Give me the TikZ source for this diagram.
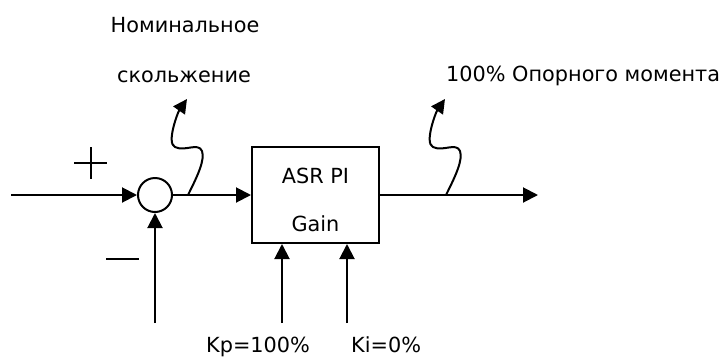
\documentclass[tikz,border=0pt]{standalone}
\usepackage{fontspec}
\setmainfont{DejaVu Sans}
\usetikzlibrary{arrows.meta}
\tikzset{
  sig/.style={line width=2pt, -{Triangle[length=15pt,width=15pt]}},
  wave/.style={line width=2pt, -{Triangle[length=14pt,width=14pt]}},
  sgn/.style={line width=1.5pt},
  lbl/.style={font=\fontsize{20.8}{25}\selectfont, inner sep=0pt, anchor=base},
}
\begin{document}
\begin{tikzpicture}[x=1pt,y=-1pt]
        \useasboundingbox (0,0) rectangle (724,360);
        % blocks
        \node [circle, draw, line width=2pt, minimum size=34pt, inner sep=0pt] (sum) at (155,195) {};
        \node [draw, line width=2pt, minimum width=127pt, minimum height=96pt] (pi) at (315.5,195) {};
        \node [lbl] (pia) at (315.5,183) {ASR PI};
        \node [lbl] (pib) at (315.5,231) {Gain};
        % free ends
        \coordinate (in) at (11,195);
        \coordinate (fb) at (155,323);
        \coordinate (out) at (538,195);
        \coordinate (kp) at (282,323);
        \coordinate (ki) at (347,323);
        \coordinate (slip) at (188,195);
        \coordinate (torque) at (446,195);
        % lines
        \draw [sig] (in) -- (sum);
        \draw [sig] (fb) -- (sum);
        \draw [sig] (sum) -- (pi);
        \draw [sig] (pi) -- (out);
        \draw [sig] (kp) -- (kp |- pi.south);
        \draw [sig] (ki) -- (ki |- pi.south);
        % squiggles
        \foreach \p in {slip,torque}
          \draw [wave, shift={(\p)}] (0,0) .. controls (10,-20) and (17,-35) .. (14,-44) .. controls (10,-53) and (-3,-43) .. (-13,-48) .. controls (-22,-52) and (-10,-83) .. (-1,-96);
        % signs
        \draw [sgn] (74,163) -- (107,163);\draw [sgn] (91,147) -- (91,179);
        \draw [sgn] (106,259) -- (139,259);
        % lecter
        \node [lbl] (nom) at (185,32) {Номинальное};
        \node [lbl] (skol) at (184,82) {скольжение};
        \node [lbl, anchor=base west] (ref) at (446,81) {100\% Опорного момента};
        \node [lbl, anchor=base west] (kpv) at (206,352) {Kp=100\%};
        \node [lbl, anchor=base west] (kiv) at (351,352) {Ki=0\%};
\end{tikzpicture}
\end{document}
